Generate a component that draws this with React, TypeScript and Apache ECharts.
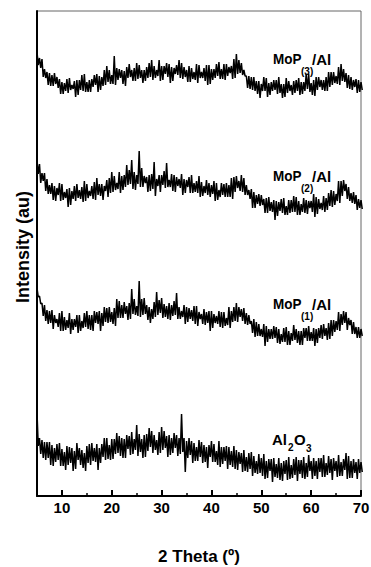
import React, { useEffect, useRef } from "react";
import * as echarts from "echarts";

// 2θ sampling: each 0.5° step holds the upper and lower edge of the noisy trace band
const START_ANGLE = 5;
const ANGLE_STEP = 0.5;

// MoP(3)/Al — upper and lower edges of the trace band (arbitrary units, stacked offset)
const mop3Upper = [
  444, 438, 437, 427, 424, 423, 421, 423, 419, 417, 414, 413, 417, 418, 411, 415, 416, 416, 421, 422,
  414, 416, 417, 421, 422, 420, 419, 426, 430, 426, 421, 440, 428, 427, 426, 425, 429, 432, 426, 428,
  433, 431, 426, 426, 429, 433, 436, 430, 426, 436, 430, 430, 433, 432, 429, 428, 431, 436, 433, 429,
  426, 430, 428, 424, 432, 431, 424, 428, 431, 431, 427, 427, 432, 434, 427, 432, 432, 429, 430, 437,
  442, 436, 433, 426, 420, 420, 419, 419, 415, 415, 412, 419, 418, 413, 414, 416, 416, 419, 412, 412,
  418, 415, 411, 415, 416, 418, 414, 414, 422, 422, 413, 416, 419, 419, 416, 416, 419, 424, 424, 424,
  420, 429, 432, 427, 423, 421, 419, 416, 417, 416, 414,
];
const mop3Lower = [
  431, 428, 419, 418, 411, 410, 410, 412, 408, 402, 402, 405, 403, 406, 407, 399, 401, 406, 405, 404,
  404, 404, 409, 411, 404, 406, 410, 411, 414, 412, 412, 411, 416, 418, 412, 410, 418, 419, 415, 415,
  417, 418, 413, 415, 418, 419, 416, 418, 420, 415, 416, 422, 419, 413, 415, 422, 421, 418, 417, 419,
  414, 414, 417, 416, 413, 418, 418, 415, 411, 412, 416, 418, 420, 417, 417, 416, 420, 423, 417, 418,
  422, 423, 421, 420, 408, 407, 406, 405, 402, 398, 405, 405, 399, 401, 405, 406, 402, 403, 398, 399,
  403, 405, 401, 403, 405, 401, 402, 405, 407, 404, 401, 400, 406, 409, 406, 405, 405, 409, 411, 413,
  412, 411, 415, 414, 408, 407, 406, 409, 403, 404, 406,
];

// MoP(2)/Al
const mop2Upper = [
  336, 332, 323, 323, 317, 311, 313, 310, 308, 313, 312, 304, 307, 308, 305, 310, 312, 306, 309, 315,
  312, 305, 310, 314, 318, 312, 312, 310, 316, 318, 324, 320, 313, 324, 320, 321, 331, 326, 336, 324,
  321, 345, 328, 320, 319, 321, 322, 334, 317, 321, 321, 325, 333, 316, 322, 321, 319, 317, 322, 317,
  316, 319, 321, 313, 315, 320, 314, 310, 316, 313, 311, 315, 313, 306, 313, 312, 313, 311, 318, 319,
  320, 315, 321, 318, 311, 306, 307, 304, 301, 302, 301, 297, 298, 299, 294, 296, 295, 294, 297, 298,
  290, 296, 296, 300, 299, 295, 292, 298, 296, 295, 295, 302, 299, 297, 293, 300, 298, 303, 306, 305,
  302, 315, 315, 316, 312, 309, 303, 304, 301, 297, 296,
];
const mop2Lower = [
  322, 313, 315, 305, 302, 302, 296, 295, 301, 295, 296, 298, 289, 291, 297, 295, 298, 297, 294, 295,
  298, 300, 297, 296, 301, 300, 296, 305, 299, 303, 304, 306, 307, 303, 306, 309, 311, 312, 307, 306,
  312, 309, 309, 313, 304, 305, 307, 300, 310, 304, 311, 308, 309, 309, 305, 304, 310, 308, 301, 303,
  309, 303, 303, 304, 303, 299, 300, 303, 301, 299, 302, 295, 296, 299, 301, 299, 299, 299, 297, 304,
  308, 305, 304, 301, 301, 297, 288, 288, 292, 290, 291, 283, 283, 285, 284, 276, 280, 285, 283, 281,
  281, 283, 284, 284, 281, 281, 284, 283, 282, 288, 284, 279, 282, 287, 286, 284, 286, 290, 289, 291,
  295, 293, 300, 305, 297, 295, 293, 292, 286, 288, 287,
];

// MoP(1)/Al
const mop1Upper = [
  208, 200, 193, 191, 186, 185, 186, 181, 177, 183, 185, 179, 176, 183, 177, 177, 181, 181, 175, 183,
  185, 181, 181, 185, 184, 185, 183, 189, 188, 189, 184, 188, 197, 195, 191, 194, 190, 193, 207, 197,
  190, 215, 197, 198, 191, 189, 187, 194, 204, 196, 198, 192, 190, 193, 191, 195, 203, 189, 185, 191,
  189, 188, 186, 190, 190, 184, 182, 187, 184, 185, 185, 182, 180, 185, 184, 184, 178, 189, 185, 189,
  193, 189, 187, 188, 183, 181, 175, 177, 174, 172, 167, 172, 170, 167, 167, 170, 169, 167, 162, 168,
  169, 165, 163, 171, 167, 165, 165, 168, 168, 170, 164, 168, 167, 168, 171, 172, 168, 173, 176, 176,
  175, 184, 182, 185, 184, 178, 176, 174, 169, 169, 167,
];
const mop1Lower = [
  199, 192, 180, 175, 172, 173, 167, 173, 169, 165, 165, 166, 168, 162, 166, 169, 163, 165, 168, 169,
  167, 166, 165, 173, 172, 165, 170, 174, 173, 174, 172, 170, 178, 178, 178, 182, 176, 177, 182, 181,
  180, 179, 181, 182, 176, 173, 177, 179, 181, 183, 178, 179, 177, 176, 180, 181, 177, 177, 179, 172,
  174, 177, 175, 172, 170, 177, 172, 171, 173, 165, 168, 173, 172, 169, 168, 170, 171, 168, 174, 175,
  174, 179, 175, 172, 171, 172, 163, 159, 160, 160, 159, 150, 154, 157, 157, 158, 153, 152, 154, 154,
  151, 151, 155, 156, 153, 151, 151, 158, 155, 155, 155, 150, 153, 158, 157, 160, 156, 157, 160, 164,
  166, 165, 171, 173, 166, 171, 162, 162, 158, 158, 160,
];

// Al2O3
const al2o3Upper = [
  84, 58, 56, 54, 54, 54, 51, 48, 52, 53, 47, 44, 50, 49, 48, 45, 53, 48, 46, 43,
  50, 52, 53, 48, 52, 48, 52, 58, 58, 51, 57, 57, 63, 60, 58, 57, 61, 60, 64, 57,
  71, 62, 57, 61, 62, 68, 65, 61, 56, 64, 69, 65, 60, 61, 58, 63, 61, 58, 82, 58,
  55, 58, 55, 53, 49, 56, 54, 51, 49, 51, 55, 52, 45, 55, 49, 49, 50, 49, 45, 50,
  46, 44, 43, 46, 39, 43, 44, 40, 35, 42, 38, 42, 35, 37, 37, 38, 32, 38, 33, 35,
  36, 39, 31, 37, 39, 36, 36, 39, 33, 41, 35, 38, 35, 38, 38, 41, 33, 40, 37, 38,
  35, 41, 34, 37, 43, 40, 35, 37, 34, 37, 34,
];
const al2o3Lower = [
  50, 42, 38, 36, 38, 31, 30, 34, 36, 30, 30, 26, 31, 33, 25, 27, 36, 31, 28, 25,
  33, 31, 35, 34, 26, 33, 39, 36, 37, 36, 37, 42, 43, 40, 38, 38, 47, 41, 42, 46,
  40, 44, 38, 39, 45, 49, 43, 46, 41, 43, 46, 48, 39, 41, 43, 48, 40, 42, 44, 24,
  38, 41, 33, 35, 35, 39, 33, 34, 28, 39, 34, 34, 31, 29, 32, 35, 27, 31, 29, 27,
  26, 32, 24, 25, 24, 27, 20, 23, 22, 23, 20, 17, 18, 25, 14, 19, 18, 16, 15, 22,
  16, 17, 18, 21, 15, 22, 18, 17, 19, 25, 17, 20, 17, 24, 19, 19, 21, 23, 16, 25,
  19, 20, 20, 26, 17, 18, 18, 23, 17, 23, 24,
];

const traceLabels = [
  { main: "MoP", sub: "(3)", tail: "/Al", y: 59 },
  { main: "MoP", sub: "(2)", tail: "/Al", y: 176 },
  { main: "MoP", sub: "(1)", tail: "/Al", y: 304 },
];

const xMajorTicks = [10, 20, 30, 40, 50, 60, 70];
const xMinorTicks = [15, 25, 35, 45, 55, 65];

const FONT = "'Liberation Sans', Arial, Helvetica, sans-serif";

// Interleave the band's upper and lower edges so the line sweeps across the noisy band
const toBand = (upper: number[], lower: number[]) => {
  const out: number[][] = [];
  upper.forEach((u, i) => {
    const x = START_ANGLE + ANGLE_STEP * i;
    out.push([x, u]);
    out.push([x + ANGLE_STEP / 2, lower[i]]);
  });
  return out;
};

const txt = (text: string, x: number, y: number, size: number, sx = 1) => ({
  type: "text",
  x,
  y,
  scaleX: sx,
  silent: true,
  style: {
    text,
    fill: "#000",
    font: `bold ${size}px ${FONT}`,
    textAlign: "left",
    align: "left",
    textVerticalAlign: "middle",
    verticalAlign: "middle",
  },
});

export default function App() {
  const ref = useRef<HTMLDivElement>(null);

  useEffect(() => {
    document.body.style.margin = "0";
    const chart = echarts.init(ref.current as HTMLDivElement, null, { renderer: "svg" });

    const graphics: any[] = [];
    traceLabels.forEach((l) => {
      graphics.push(txt(l.main, 273, l.y, 15, 0.9));
      graphics.push(txt(l.sub, 301, l.y + 12, 10));
      graphics.push(txt(l.tail, 312, l.y, 15));
    });
    graphics.push(txt("Al", 272, 439, 15));
    graphics.push(txt("2", 288, 447, 10));
    graphics.push(txt("O", 294, 439, 15));
    graphics.push(txt("3", 306, 448, 10));
    graphics.push({
      type: "text",
      x: 23,
      y: 247,
      rotation: Math.PI / 2,
      silent: true,
      style: {
        text: "Intensity (au)",
        fill: "#000",
        font: `bold 18px ${FONT}`,
        textAlign: "center",
        align: "center",
        textVerticalAlign: "middle",
        verticalAlign: "middle",
      },
    });

    const lineSeries = (name: string, upper: number[], lower: number[]) => ({
      name,
      type: "line",
      data: toBand(upper, lower),
      showSymbol: false,
      symbol: "none",
      clip: true,
      lineStyle: { color: "#000", width: 1.5 },
      itemStyle: { color: "#000" },
      emphasis: { disabled: true },
    });

    chart.setOption({
      animation: false,
      backgroundColor: "#fff",
      grid: {
        left: 37,
        right: 10,
        top: 11,
        bottom: 71,
        show: true,
        borderColor: "#666",
        borderWidth: 1,
        outerBoundsMode: "none",
      },
      xAxis: [
        {
          type: "value",
          min: 5,
          max: 70,
          position: "bottom",
          axisLine: { show: true, onZero: false, lineStyle: { color: "#000", width: 2 } },
          axisTick: {
            show: true,
            inside: true,
            length: 6,
            customValues: xMajorTicks,
            lineStyle: { color: "#000", width: 2 },
          },
          axisLabel: {
            show: true,
            customValues: xMajorTicks,
            margin: 4,
            fontFamily: FONT,
            fontWeight: "bold",
            fontSize: 15,
            color: "#000",
          },
          splitLine: { show: false },
          name: "2 Theta (º)",
          nameLocation: "middle",
          nameGap: 52,
          nameTextStyle: { fontFamily: FONT, fontWeight: "bold", fontSize: 17, color: "#000" },
        },
        {
          type: "value",
          min: 5,
          max: 70,
          position: "bottom",
          offset: 0,
          axisLine: { show: false, onZero: false },
          axisTick: {
            show: true,
            inside: true,
            length: 3,
            customValues: xMinorTicks,
            lineStyle: { color: "#000", width: 1.5 },
          },
          axisLabel: { show: false },
          splitLine: { show: false },
        },
      ],
      yAxis: {
        type: "value",
        min: 0,
        max: 485,
        axisLine: { show: true, onZero: false, lineStyle: { color: "#000", width: 2 } },
        axisTick: { show: false },
        axisLabel: { show: false },
        splitLine: { show: false },
      },
      graphic: graphics,
      series: [
        lineSeries("MoP(3)/Al", mop3Upper, mop3Lower),
        lineSeries("MoP(2)/Al", mop2Upper, mop2Lower),
        lineSeries("MoP(1)/Al", mop1Upper, mop1Lower),
        lineSeries("Al2O3", al2o3Upper, al2o3Lower),
      ],
    });

    return () => chart.dispose();
  }, []);

  return <div ref={ref} style={{ width: 371, height: 567 }} />;
}
